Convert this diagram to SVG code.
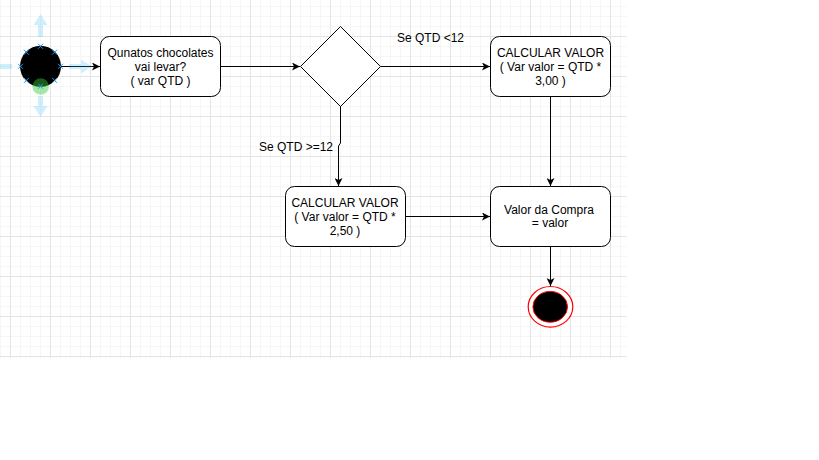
<svg xmlns="http://www.w3.org/2000/svg" width="819" height="460" viewBox="0 0 819 460">
<defs>
<pattern id="minor" patternUnits="userSpaceOnUse" x="0" y="6" width="10" height="10">
<path d="M0.5 0V10M0 0.5H10" stroke="#f6f6f6" stroke-width="1" fill="none"/>
</pattern>
<pattern id="major" patternUnits="userSpaceOnUse" x="10" y="-4" width="40" height="40">
<path d="M0.5 0V40M0 0.5H40" stroke="#e4e4e4" stroke-width="1" fill="none"/>
</pattern>
<marker id="arr" viewBox="0 0 8 8" refX="8" refY="4" markerWidth="8" markerHeight="8" markerUnits="userSpaceOnUse" orient="auto">
<path d="M0,0 L8,4 L0,8 L2,4 z" fill="#000"/>
</marker>
</defs>
<style>
.box{fill:#fff;stroke:#000;stroke-width:1}
.t{font-family:"Liberation Sans",Arial,sans-serif;font-size:12px;fill:#000;text-anchor:middle}
.lbl{font-family:"Liberation Sans",Arial,sans-serif;font-size:12px;fill:#000}
.edge{fill:none;stroke:#000;stroke-width:1;marker-end:url(#arr)}
.hint{fill:#29b6f2;opacity:0.22}
.xm{stroke:#2b95e8;stroke-width:1;fill:none}
</style>
<rect x="0" y="0" width="819" height="460" fill="#fff"/>
<rect x="0" y="0" width="627" height="358" fill="url(#minor)"/>
<rect x="0" y="0" width="627" height="358" fill="url(#major)"/>

<g id="connectors">
<path class="edge" d="M61 66.5H100"/>
<path class="edge" d="M220.5 66.5H300"/>
<path class="edge" d="M380.5 66.5H490"/>
<path class="edge" d="M550.5 96.5V186"/>
<path class="edge" d="M340.5 106V143L338.5 146V186"/>
<path class="edge" d="M405 216.5H490"/>
<path class="edge" d="M550.5 246.5V286"/>
<text class="lbl" x="397" y="42">Se QTD &lt;12</text>
<text class="lbl" x="259" y="151">Se QTD &gt;=12</text>
</g>

<g id="start">
<path class="hint" d="M40.5 14L47.5 25H43V37H38V25H33.5Z"/>
<path class="hint" d="M40.5 117L47.5 106H43V96H38V106H33.5Z"/>
<rect class="hint" x="0" y="64" width="12" height="5"/>
<path class="hint" d="M92 66.5L81 59.5V64H69V69H81V73.5Z"/>
<circle cx="40.5" cy="66.3" r="20.5" fill="#000"/>
<circle cx="40.7" cy="86.5" r="8.3" fill="#33cc33" opacity="0.45"/>
<g class="xm">
<path d="M38 43.8l5 5m0 -5l-5 5"/>
<path d="M38 83.8l5 5m0 -5l-5 5"/>
<path d="M18 63.8l5 5m0 -5l-5 5"/>
<path d="M58 63.8l5 5m0 -5l-5 5"/>
<path d="M23.9 49.7l5 5m0 -5l-5 5"/>
<path d="M52.1 49.7l5 5m0 -5l-5 5"/>
<path d="M23.9 77.9l5 5m0 -5l-5 5"/>
<path d="M52.1 77.9l5 5m0 -5l-5 5"/>
</g>
</g>

<g id="ask">
<rect class="box" x="100.5" y="36.5" width="120" height="60" rx="9" ry="9"/>
<text class="t" x="160.5" y="57">Qunatos chocolates</text>
<text class="t" x="160.5" y="71">vai levar?</text>
<text class="t" x="160.5" y="85">( var QTD )</text>
</g>

<g id="decision">
<path class="box" d="M340.5 26.5L380.5 66.5L340.5 106.5L300.5 66.5Z"/>
</g>

<g id="calc300">
<rect class="box" x="490.5" y="36.5" width="120" height="60" rx="9" ry="9"/>
<text class="t" x="550.5" y="57">CALCULAR VALOR</text>
<text class="t" x="550.5" y="71">( Var valor = QTD *</text>
<text class="t" x="550.5" y="85">3,00 )</text>
</g>

<g id="calc250">
<rect class="box" x="285.5" y="186.5" width="120" height="60" rx="9" ry="9"/>
<text class="t" x="345" y="207">CALCULAR VALOR</text>
<text class="t" x="345" y="221">( Var valor = QTD *</text>
<text class="t" x="345" y="235">2,50 )</text>
</g>

<g id="total">
<rect class="box" x="490.5" y="186.5" width="120" height="60" rx="9" ry="9"/>
<text class="t" x="549" y="214">Valor da Compra</text>
<text class="t" x="550" y="227">= valor</text>
</g>

<g id="end">
<ellipse cx="550.5" cy="306.8" rx="22.3" ry="20.3" fill="#fff" stroke="#ff0000" stroke-width="1.2"/>
<ellipse cx="550.2" cy="306.8" rx="17.3" ry="15.4" fill="#000" stroke="#ff0000" stroke-width="1"/>
</g>
</svg>
